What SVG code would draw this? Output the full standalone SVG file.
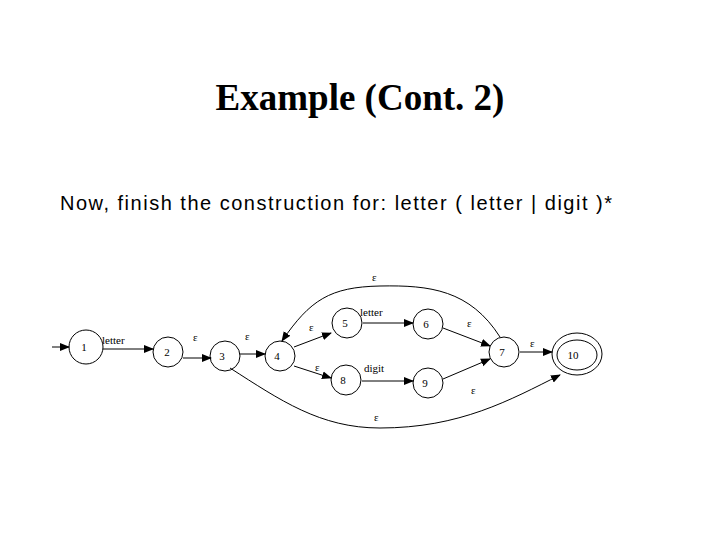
<svg xmlns="http://www.w3.org/2000/svg" width="720" height="540" viewBox="0 0 720 540">
<style>
.node{fill:none;stroke:#000;stroke-width:1}
.edge{fill:none;stroke:#000;stroke-width:1}
.nl{font-family:"Liberation Serif",serif;font-size:11px;text-anchor:middle;fill:#000}
.el{font-family:"Liberation Serif",serif;font-size:11px;fill:#000}
</style>
<defs>
<marker id="arr" markerWidth="10" markerHeight="10" refX="9" refY="5" orient="auto" markerUnits="userSpaceOnUse">
<path d="M0,1 L10,5 L0,9 Z" fill="#000"/>
</marker>
</defs>
<rect width="720" height="540" fill="#fff"/>
<text x="360" y="110" font-family="Liberation Serif,serif" font-weight="bold" font-size="37" text-anchor="middle">Example (Cont. 2)</text>
<text x="60" y="210" font-family="Liberation Sans,sans-serif" font-size="20" textLength="552" lengthAdjust="spacing">Now, finish the construction for: letter ( letter | digit )*</text>
<g id="connectors">
<line class="edge" x1="52" y1="347" x2="69" y2="347" marker-end="url(#arr)"/>
<line class="edge" x1="103" y1="349" x2="153" y2="349" marker-end="url(#arr)"/>
<line class="edge" x1="183" y1="358" x2="211" y2="358" marker-end="url(#arr)"/>
<line class="edge" x1="240" y1="354" x2="265" y2="354" marker-end="url(#arr)"/>
<line class="edge" x1="294" y1="347" x2="331" y2="333" marker-end="url(#arr)"/>
<line class="edge" x1="294" y1="366" x2="331" y2="378" marker-end="url(#arr)"/>
<line class="edge" x1="363" y1="323" x2="413" y2="323" marker-end="url(#arr)"/>
<line class="edge" x1="362" y1="381" x2="413" y2="381" marker-end="url(#arr)"/>
<line class="edge" x1="443" y1="328" x2="490" y2="346" marker-end="url(#arr)"/>
<line class="edge" x1="443" y1="379" x2="490" y2="359" marker-end="url(#arr)"/>
<line class="edge" x1="520" y1="352" x2="552" y2="352" marker-end="url(#arr)"/>
<path class="edge" d="M500,337 C470,290 430,285 380,286 C330,287 310,300 282,341" marker-end="url(#arr)"/>
<path class="edge" d="M230,368 C280,400 320,428 380,428 C460,428 510,400 560,375" marker-end="url(#arr)"/>
</g>
<g id="n1"><circle class="node" cx="86" cy="347" r="17"/><text class="nl" x="84" y="351">1</text></g>
<g id="n2"><circle class="node" cx="168" cy="352" r="15"/><text class="nl" x="167" y="356">2</text></g>
<g id="n3"><circle class="node" cx="225" cy="356" r="15"/><text class="nl" x="222" y="360">3</text></g>
<g id="n4"><circle class="node" cx="280" cy="356" r="15"/><text class="nl" x="277" y="360">4</text></g>
<g id="n5"><circle class="node" cx="347" cy="323" r="15"/><text class="nl" x="345" y="327">5</text></g>
<g id="n6"><circle class="node" cx="428" cy="324" r="15"/><text class="nl" x="426" y="328">6</text></g>
<g id="n8"><circle class="node" cx="346" cy="380" r="15"/><text class="nl" x="343" y="384">8</text></g>
<g id="n9"><circle class="node" cx="428" cy="383" r="15"/><text class="nl" x="425" y="387">9</text></g>
<g id="n7"><circle class="node" cx="504" cy="352" r="15"/><text class="nl" x="502" y="356">7</text></g>
<g id="n10"><ellipse class="node" cx="577" cy="354" rx="25" ry="21"/><ellipse class="node" cx="577" cy="355" rx="20" ry="15"/><text class="nl" x="573" y="359">10</text></g>
<g id="labels">
<text class="el" x="102" y="344">letter</text>
<text class="el" x="193" y="341">ε</text>
<text class="el" x="245" y="340">ε</text>
<text class="el" x="309" y="331">ε</text>
<text class="el" x="315" y="371">ε</text>
<text class="el" x="360" y="316">letter</text>
<text class="el" x="364" y="372">digit</text>
<text class="el" x="467" y="327">ε</text>
<text class="el" x="530" y="347">ε</text>
<text class="el" x="471" y="394">ε</text>
<text class="el" x="372" y="281">ε</text>
<text class="el" x="374" y="421">ε</text>
</g>
</svg>
